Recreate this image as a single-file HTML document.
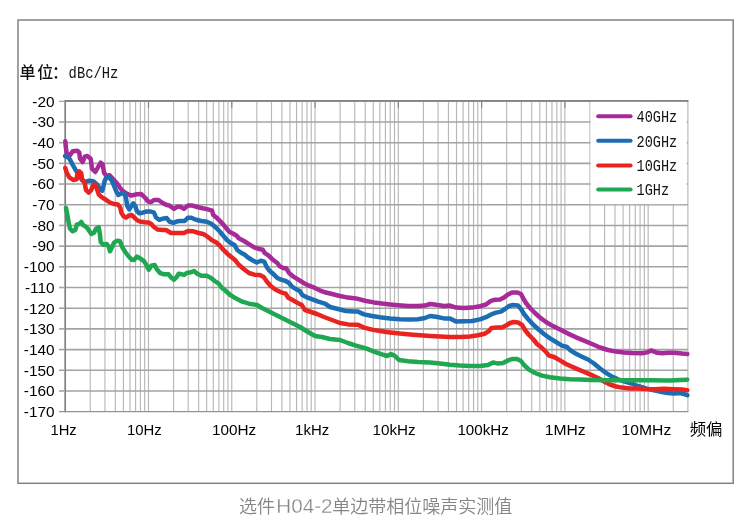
<!DOCTYPE html>
<html lang="zh-CN">
<head>
<meta charset="utf-8">
<title>选件H04-2单边带相位噪声实测值</title>
<style>
html,body{margin:0;padding:0;background:#fff;}
body{width:750px;height:525px;overflow:hidden;position:relative;font-family:"Liberation Sans","Noto Sans CJK SC",sans-serif;}
svg{position:absolute;left:0;top:0;display:block;}
.ax{font-family:"Liberation Sans","Noto Sans CJK SC",sans-serif;font-size:15.4px;fill:#000;}
.cn{font-family:"Liberation Sans","Noto Sans CJK SC",sans-serif;font-size:16px;fill:#000;}
.cnb{font-family:"Liberation Sans","Noto Sans CJK SC",sans-serif;font-size:16px;font-weight:500;fill:#111;}
.lg{font-family:"Liberation Mono","Noto Sans CJK SC",monospace;font-size:16px;fill:#111;}
.cap{font-family:"Liberation Sans","Noto Sans CJK SC",sans-serif;font-size:18px;font-weight:350;fill:#858585;}
.capl{font-size:19.4px;stroke:#ffffff;stroke-width:0.3;}
.curve{fill:none;stroke-width:4.5;stroke-linejoin:round;stroke-linecap:round;}
</style>
</head>
<body>
<svg width="750" height="525" viewBox="0 0 750 525">
<rect x="0" y="0" width="750" height="525" fill="#ffffff"/>
<rect x="18" y="20" width="715.2" height="463.3" fill="none" stroke="#828282" stroke-width="1.5"/>

<g stroke="#b8b8b8" stroke-width="1.15" fill="none">
<line x1="90.27" y1="101.30" x2="90.27" y2="411.65"/>
<line x1="104.93" y1="101.30" x2="104.93" y2="411.65"/>
<line x1="115.34" y1="101.30" x2="115.34" y2="411.65"/>
<line x1="123.41" y1="101.30" x2="123.41" y2="411.65"/>
<line x1="130.00" y1="101.30" x2="130.00" y2="411.65"/>
<line x1="135.58" y1="101.30" x2="135.58" y2="411.65"/>
<line x1="140.41" y1="101.30" x2="140.41" y2="411.65"/>
<line x1="144.67" y1="101.30" x2="144.67" y2="411.65"/>
<line x1="148.48" y1="101.30" x2="148.48" y2="411.65"/>
<line x1="173.55" y1="101.30" x2="173.55" y2="411.65"/>
<line x1="188.21" y1="101.30" x2="188.21" y2="411.65"/>
<line x1="198.62" y1="101.30" x2="198.62" y2="411.65"/>
<line x1="206.69" y1="101.30" x2="206.69" y2="411.65"/>
<line x1="213.28" y1="101.30" x2="213.28" y2="411.65"/>
<line x1="218.86" y1="101.30" x2="218.86" y2="411.65"/>
<line x1="223.69" y1="101.30" x2="223.69" y2="411.65"/>
<line x1="227.95" y1="101.30" x2="227.95" y2="411.65"/>
<line x1="231.76" y1="101.30" x2="231.76" y2="411.65"/>
<line x1="256.83" y1="101.30" x2="256.83" y2="411.65"/>
<line x1="271.49" y1="101.30" x2="271.49" y2="411.65"/>
<line x1="281.90" y1="101.30" x2="281.90" y2="411.65"/>
<line x1="289.97" y1="101.30" x2="289.97" y2="411.65"/>
<line x1="296.56" y1="101.30" x2="296.56" y2="411.65"/>
<line x1="302.14" y1="101.30" x2="302.14" y2="411.65"/>
<line x1="306.97" y1="101.30" x2="306.97" y2="411.65"/>
<line x1="311.23" y1="101.30" x2="311.23" y2="411.65"/>
<line x1="315.04" y1="101.30" x2="315.04" y2="411.65"/>
<line x1="340.11" y1="101.30" x2="340.11" y2="411.65"/>
<line x1="354.77" y1="101.30" x2="354.77" y2="411.65"/>
<line x1="365.18" y1="101.30" x2="365.18" y2="411.65"/>
<line x1="373.25" y1="101.30" x2="373.25" y2="411.65"/>
<line x1="379.84" y1="101.30" x2="379.84" y2="411.65"/>
<line x1="385.42" y1="101.30" x2="385.42" y2="411.65"/>
<line x1="390.25" y1="101.30" x2="390.25" y2="411.65"/>
<line x1="394.51" y1="101.30" x2="394.51" y2="411.65"/>
<line x1="398.32" y1="101.30" x2="398.32" y2="411.65"/>
<line x1="423.39" y1="101.30" x2="423.39" y2="411.65"/>
<line x1="438.05" y1="101.30" x2="438.05" y2="411.65"/>
<line x1="448.46" y1="101.30" x2="448.46" y2="411.65"/>
<line x1="456.53" y1="101.30" x2="456.53" y2="411.65"/>
<line x1="463.12" y1="101.30" x2="463.12" y2="411.65"/>
<line x1="468.70" y1="101.30" x2="468.70" y2="411.65"/>
<line x1="473.53" y1="101.30" x2="473.53" y2="411.65"/>
<line x1="477.79" y1="101.30" x2="477.79" y2="411.65"/>
<line x1="481.60" y1="101.30" x2="481.60" y2="411.65"/>
<line x1="506.67" y1="101.30" x2="506.67" y2="411.65"/>
<line x1="521.33" y1="101.30" x2="521.33" y2="411.65"/>
<line x1="531.74" y1="101.30" x2="531.74" y2="411.65"/>
<line x1="539.81" y1="101.30" x2="539.81" y2="411.65"/>
<line x1="546.40" y1="101.30" x2="546.40" y2="411.65"/>
<line x1="551.98" y1="101.30" x2="551.98" y2="411.65"/>
<line x1="556.81" y1="101.30" x2="556.81" y2="411.65"/>
<line x1="561.07" y1="101.30" x2="561.07" y2="411.65"/>
<line x1="564.88" y1="101.30" x2="564.88" y2="411.65"/>
<line x1="589.95" y1="101.30" x2="589.95" y2="411.65"/>
<line x1="604.61" y1="101.30" x2="604.61" y2="411.65"/>
<line x1="615.02" y1="101.30" x2="615.02" y2="411.65"/>
<line x1="623.09" y1="101.30" x2="623.09" y2="411.65"/>
<line x1="629.68" y1="101.30" x2="629.68" y2="411.65"/>
<line x1="635.26" y1="101.30" x2="635.26" y2="411.65"/>
<line x1="640.09" y1="101.30" x2="640.09" y2="411.65"/>
<line x1="644.35" y1="101.30" x2="644.35" y2="411.65"/>
<line x1="648.16" y1="101.30" x2="648.16" y2="411.65"/>
<line x1="673.23" y1="101.30" x2="673.23" y2="411.65"/>
<line x1="687.89" y1="101.30" x2="687.89" y2="411.65"/>
</g>
<g stroke="#a3a3a3" stroke-width="1.6" fill="none">
<line x1="65.20" y1="101.30" x2="687.89" y2="101.30"/>
<line x1="65.20" y1="121.99" x2="687.89" y2="121.99"/>
<line x1="65.20" y1="142.68" x2="687.89" y2="142.68"/>
<line x1="65.20" y1="163.37" x2="687.89" y2="163.37"/>
<line x1="65.20" y1="184.06" x2="687.89" y2="184.06"/>
<line x1="65.20" y1="204.75" x2="687.89" y2="204.75"/>
<line x1="65.20" y1="225.44" x2="687.89" y2="225.44"/>
<line x1="65.20" y1="246.13" x2="687.89" y2="246.13"/>
<line x1="65.20" y1="266.82" x2="687.89" y2="266.82"/>
<line x1="65.20" y1="287.51" x2="687.89" y2="287.51"/>
<line x1="65.20" y1="308.20" x2="687.89" y2="308.20"/>
<line x1="65.20" y1="328.89" x2="687.89" y2="328.89"/>
<line x1="65.20" y1="349.58" x2="687.89" y2="349.58"/>
<line x1="65.20" y1="370.27" x2="687.89" y2="370.27"/>
<line x1="65.20" y1="390.96" x2="687.89" y2="390.96"/>
</g>
<g stroke="#848484" stroke-width="1.2">
<line x1="148.48" y1="101.30" x2="148.48" y2="107.80"/>
<line x1="231.76" y1="101.30" x2="231.76" y2="107.80"/>
<line x1="315.04" y1="101.30" x2="315.04" y2="107.80"/>
<line x1="398.32" y1="101.30" x2="398.32" y2="107.80"/>
<line x1="481.60" y1="101.30" x2="481.60" y2="107.80"/>
<line x1="564.88" y1="101.30" x2="564.88" y2="107.80"/>
<line x1="648.16" y1="101.30" x2="648.16" y2="107.80"/>
</g>
<g fill="none">
<line x1="65.20" y1="100.10" x2="65.20" y2="412.25" stroke="#808080" stroke-width="1.7"/>
<line x1="59.00" y1="411.65" x2="688.39" y2="411.65" stroke="#929292" stroke-width="1.25"/>
<line x1="65.20" y1="100.90" x2="688.49" y2="100.90" stroke="#858585" stroke-width="1.8"/>
<line x1="59.00" y1="101.30" x2="65.20" y2="101.30" stroke="#9a9a9a" stroke-width="1.1"/>
<line x1="59.00" y1="121.99" x2="65.20" y2="121.99" stroke="#a3a3a3" stroke-width="1.6"/>
<line x1="59.00" y1="142.68" x2="65.20" y2="142.68" stroke="#a3a3a3" stroke-width="1.6"/>
<line x1="59.00" y1="163.37" x2="65.20" y2="163.37" stroke="#a3a3a3" stroke-width="1.6"/>
<line x1="59.00" y1="184.06" x2="65.20" y2="184.06" stroke="#a3a3a3" stroke-width="1.6"/>
<line x1="59.00" y1="204.75" x2="65.20" y2="204.75" stroke="#a3a3a3" stroke-width="1.6"/>
<line x1="59.00" y1="225.44" x2="65.20" y2="225.44" stroke="#a3a3a3" stroke-width="1.6"/>
<line x1="59.00" y1="246.13" x2="65.20" y2="246.13" stroke="#a3a3a3" stroke-width="1.6"/>
<line x1="59.00" y1="266.82" x2="65.20" y2="266.82" stroke="#a3a3a3" stroke-width="1.6"/>
<line x1="59.00" y1="287.51" x2="65.20" y2="287.51" stroke="#a3a3a3" stroke-width="1.6"/>
<line x1="59.00" y1="308.20" x2="65.20" y2="308.20" stroke="#a3a3a3" stroke-width="1.6"/>
<line x1="59.00" y1="328.89" x2="65.20" y2="328.89" stroke="#a3a3a3" stroke-width="1.6"/>
<line x1="59.00" y1="349.58" x2="65.20" y2="349.58" stroke="#a3a3a3" stroke-width="1.6"/>
<line x1="59.00" y1="370.27" x2="65.20" y2="370.27" stroke="#a3a3a3" stroke-width="1.6"/>
<line x1="59.00" y1="390.96" x2="65.20" y2="390.96" stroke="#a3a3a3" stroke-width="1.6"/>
</g>
<polyline class="curve" stroke="#a62a97" points="65.3,141.3 66,148.7 66.7,153.3 70,155.3 72.7,151.3 77.3,150.7 79.3,152.7 80,158.7 82.7,162 84.7,156.7 87.3,156 90.7,158.7 92,168.7 95.3,172 98.7,166 100.7,162.7 102.7,164.5 104,172.5 106.3,176 109.6,175.3 113,179 116.7,183 119.7,187.3 122.3,190.6 126.6,193.7 131.3,195.6 136.7,194.3 141.3,194 145.3,198 148.2,201.5 151.3,202 154,200 158.5,200 162.3,202.8 166,204.8 169.3,205.5 174,208.8 177,206.8 180.5,206.8 184,208.8 188,205.6 192.5,205.6 197.3,207 202.7,208.3 208,209.4 212,210.7 213.3,215 217.3,218.3 221.3,222.3 225.3,227 229.3,231.7 233.3,233.7 236.7,235.7 238.7,238.3 244,241 249.3,244.3 254.7,247.7 259.3,249 262.7,249.7 264.7,253 268.7,255.7 272.7,259.7 277.3,263 279.7,266.3 283.7,268.3 286.3,268.3 289,273 293,276.3 298.3,279.7 303.7,283 309,285.7 314.3,287.7 319.7,290.3 325,292.3 332,294 340,296 348,297.6 356,298.4 366,301 374,302.4 382,303.6 390,304.4 398,305.2 408,306 418,306 425,305.6 430,304 436,304.8 444,306 450,305.6 456,307.6 464,308 472,307.6 480,306.2 486,304.5 491,300.8 495,299.7 500,299.6 504,297.6 508,294.4 512,292.4 517,292.4 521,294 523,298 526,303 530,308 535,313 540,317.6 546,322 552,325.6 560,329.6 568,333.6 576,337.3 584,340.6 592,344 600,347.5 608,350 616,351.6 624,352.6 632,353.1 642,353.2 647,352.4 651,350.4 656,352.4 662,353.2 668,352.8 674,352.8 682,353.6 687.3,354"/>
<polyline class="curve" stroke="#1c6db4" points="65.1,156 68.5,157.6 70.5,160.6 72.8,165 75.3,169.4 77.3,172.6 79,175 82,180 85.3,182 89.3,180.7 93.3,181.3 97.3,184.7 100,188.7 102.3,190.7 103.5,186 104.5,181.5 106.3,177.3 109,177 111.6,180.3 114,185.6 116.4,191.7 118.4,195 121,193.6 124,193 126,198 127.3,206 129.3,209.3 131.3,206 133.3,203.3 135.3,206 136.7,210.7 139.3,213.3 142.7,212.7 146.7,211.5 150.7,211.5 154,212.7 156,217.5 159.3,219.8 162.7,218.7 166.7,218 169.3,221.5 173.3,222.8 177.3,221.3 181,221 184.7,221 188,217.7 191.3,217.7 196,219.7 201.3,221 206.7,221.7 211.3,223.7 215.3,227 219.3,231 222.7,235 226.7,239.7 230.7,243 234.7,245.3 237.3,250 241,252.7 244.5,254.5 248,257.5 252,260 256.8,262.5 260.8,260.8 264.3,261.7 266.3,266.3 269,270.3 273,273.7 277,277.7 281,279.7 285.7,281 289,283 291.7,286.3 295.7,289 299.7,291 302.3,295 307.7,297.7 313,299.7 318.3,301.7 325,303.7 330,307 338,309 346,311 354,311.6 358,311.6 364,314.4 372,316 380,317.2 390,318.4 400,319.2 410,319.6 418,319.2 425,318 430,316 436,316.8 444,318.4 450,318.4 456,321.6 464,321.2 472,321 480,319.4 486,317.2 491,314.5 496,312.6 501,311.6 505,309 509,306 513,305 518,305.6 521,309 524,314 528,319 533,324.4 538,329 544,334 550,338.4 556,342 562,345.6 567,347 570,350 576,353.8 582,356.7 588,359.5 594,363.5 600,368.5 606,372.8 612,376.6 618,379.4 624,381.4 630,383 638,386 646,388.4 654,390.4 662,392 668,393 674,393.6 680,393 685,394.4 687.3,395.2"/>
<polyline class="curve" stroke="#e92420" points="65.3,168 66.7,172.7 69.3,177.3 73.3,180 76.7,179.3 77.3,174 79.3,171.3 81.3,173.3 82,178.7 84.7,183.3 86,190 88.7,192.7 91.3,190 93.3,184.7 95.3,184.7 97.2,189.8 98.8,194.5 102,197.4 106,199.8 110,202.5 114,204 118,204.6 120.2,207.3 121.3,212.6 123.6,216.3 126,217.6 128.5,215.8 131.8,215 134.7,217.8 137.5,220.5 141,221.8 145,222.3 148.5,222.5 151.5,224.3 153.7,226.7 157.5,229.5 162.7,230 166,230 171,233 177,233 184,233 188,231 193.3,231.3 198.7,233 204,234.3 208,237 212,240.3 216,242.3 220,245.7 223.3,249.7 227.3,253.7 231.3,257 235.3,260.3 238.5,264.5 243.7,269 249,273 254.3,274.7 259.7,275 263.7,277 267,281.7 271,286.3 275.7,289.7 281,292.3 285.7,293.7 288.3,297.7 293,300.3 297.7,303 301.7,305 305,310 311,312 317,314 324,317 332,320 340,323 348,324.4 358,324.8 364,327.6 372,329.6 380,331 390,332.4 400,333.6 410,334.4 420,335.2 430,336 440,336.6 450,337 460,337 470,336.4 478,335.3 484.5,333.7 488.5,331.4 491.5,328 497,327.6 502,327.6 506,325.6 510,323 514,322 518,322.4 522,325 525,330 529,335 533,339 537,344 542,348 546,352 549,355.6 554,357 560,360.4 566,364 574,367.6 582,371 590,374.4 598,378 604,381.5 610,384.5 616,386.5 622,387.6 630,388.4 638,388.4 646,389 654,389.2 664,388.8 674,389.2 682,389.6 687.3,390.2"/>
<polyline class="curve" stroke="#1fa751" points="66,208 67.3,214.7 68.7,222.7 70,228.7 72.7,231.3 75.3,230 76.7,224.7 79.3,224 81.3,222 83.3,225.3 86,226.7 88.7,230 91.3,234 94,232.7 96,228.7 98.7,227.3 100,234.7 100.7,242 103.3,244.7 106.7,244 108.7,246.7 110,251.3 112,247.3 114,242.7 117.3,240.7 120,241.2 122.3,247.3 125.3,252 128.7,256.5 132,259.8 134,260 137,256.6 140.7,258.7 144.2,261.4 146.7,265.7 148.7,269.7 151.3,265.7 154.7,265 156.7,269 160,273 164,274.3 168.7,274.3 171.3,277.7 174,279.7 176.7,277 178.7,273.7 182,274.3 184,275 186.7,273 190.7,272.3 194,271 197.3,273.7 201.3,275.7 206.7,275.7 210.7,277.7 214.7,281 218.7,283.7 222,288 225,290.3 230.3,295 235.7,298.3 242.3,301.7 249,303.7 257,305 262,308 270,312 280,317 290,322 300,327 308,332 315,336 322,337 330,339 340,340 348,343 356,345.6 366,348.4 374,351.6 382,354.4 387,356 391,354 395,356 399,360 408,361.2 418,362 430,362.4 440,363.6 450,364.8 460,365.6 470,366 480,366 488,365 493,362.4 498,363.6 503,363 508,360.4 512,359 517,359 521,361 524,365 529,369.6 535,373 542,375.6 550,377.2 560,378.4 570,379.2 580,379.6 592,380 610,380.3 630,380.2 650,380.3 670,380.5 680,380 687.3,379.8"/>
<rect x="590.55" y="101.90" width="96.14" height="102.25" fill="#ffffff"/>
<text class="ax" x="54.6" y="106.60" text-anchor="end">-20</text>
<text class="ax" x="54.6" y="127.29" text-anchor="end">-30</text>
<text class="ax" x="54.6" y="147.98" text-anchor="end">-40</text>
<text class="ax" x="54.6" y="168.67" text-anchor="end">-50</text>
<text class="ax" x="54.6" y="189.36" text-anchor="end">-60</text>
<text class="ax" x="54.6" y="210.05" text-anchor="end">-70</text>
<text class="ax" x="54.6" y="230.74" text-anchor="end">-80</text>
<text class="ax" x="54.6" y="251.43" text-anchor="end">-90</text>
<text class="ax" x="54.6" y="272.12" text-anchor="end">-100</text>
<text class="ax" x="54.6" y="292.81" text-anchor="end">-110</text>
<text class="ax" x="54.6" y="313.50" text-anchor="end">-120</text>
<text class="ax" x="54.6" y="334.19" text-anchor="end">-130</text>
<text class="ax" x="54.6" y="354.88" text-anchor="end">-140</text>
<text class="ax" x="54.6" y="375.57" text-anchor="end">-150</text>
<text class="ax" x="54.6" y="396.26" text-anchor="end">-160</text>
<text class="ax" x="54.6" y="416.95" text-anchor="end">-170</text>
<text class="ax" x="50.50" y="435.1" textLength="26.20" lengthAdjust="spacingAndGlyphs">1Hz</text>
<text class="ax" x="127.10" y="435.1" textLength="34.70" lengthAdjust="spacingAndGlyphs">10Hz</text>
<text class="ax" x="212.00" y="435.1" textLength="44.20" lengthAdjust="spacingAndGlyphs">100Hz</text>
<text class="ax" x="295.10" y="435.1" textLength="34.10" lengthAdjust="spacingAndGlyphs">1kHz</text>
<text class="ax" x="372.50" y="435.1" textLength="43.20" lengthAdjust="spacingAndGlyphs">10kHz</text>
<text class="ax" x="457.40" y="435.1" textLength="51.50" lengthAdjust="spacingAndGlyphs">100kHz</text>
<text class="ax" x="544.80" y="435.1" textLength="40.90" lengthAdjust="spacingAndGlyphs">1MHz</text>
<text class="ax" x="621.60" y="435.1" textLength="49.70" lengthAdjust="spacingAndGlyphs">10MHz</text>
<text class="cn" x="689.7" y="435.3" style="font-size:16.4px">频偏</text>
<text class="cnb" x="19.6 37.3 52.1" y="78.4">单位：</text>
<text class="lg" transform="translate(68.60,77.50) scale(0.8646,1.060)" x="0" y="0">dBc/Hz</text>
<line x1="598.2" y1="116.20" x2="630.6" y2="116.20" stroke="#a62a97" stroke-width="4" stroke-linecap="round"/>
<text class="lg" transform="translate(636.50,121.90) scale(0.8490,1.060)" x="0" y="0">40GHz</text>
<line x1="598.2" y1="140.80" x2="630.6" y2="140.80" stroke="#1c6db4" stroke-width="4" stroke-linecap="round"/>
<text class="lg" transform="translate(636.50,146.50) scale(0.8490,1.060)" x="0" y="0">20GHz</text>
<line x1="598.2" y1="165.40" x2="630.6" y2="165.40" stroke="#e92420" stroke-width="4" stroke-linecap="round"/>
<text class="lg" transform="translate(636.50,171.10) scale(0.8490,1.060)" x="0" y="0">10GHz</text>
<line x1="598.2" y1="189.50" x2="630.6" y2="189.50" stroke="#1fa751" stroke-width="4" stroke-linecap="round"/>
<text class="lg" transform="translate(636.50,195.20) scale(0.8490,1.060)" x="0" y="0">1GHz</text>
<text class="cap" x="238.9" y="512.5">选件<tspan class="capl" x="276.3" textLength="56.3" lengthAdjust="spacingAndGlyphs">H04-2</tspan><tspan x="332.2">单边带相位噪声实测值</tspan></text>
</svg>
</body>
</html>
